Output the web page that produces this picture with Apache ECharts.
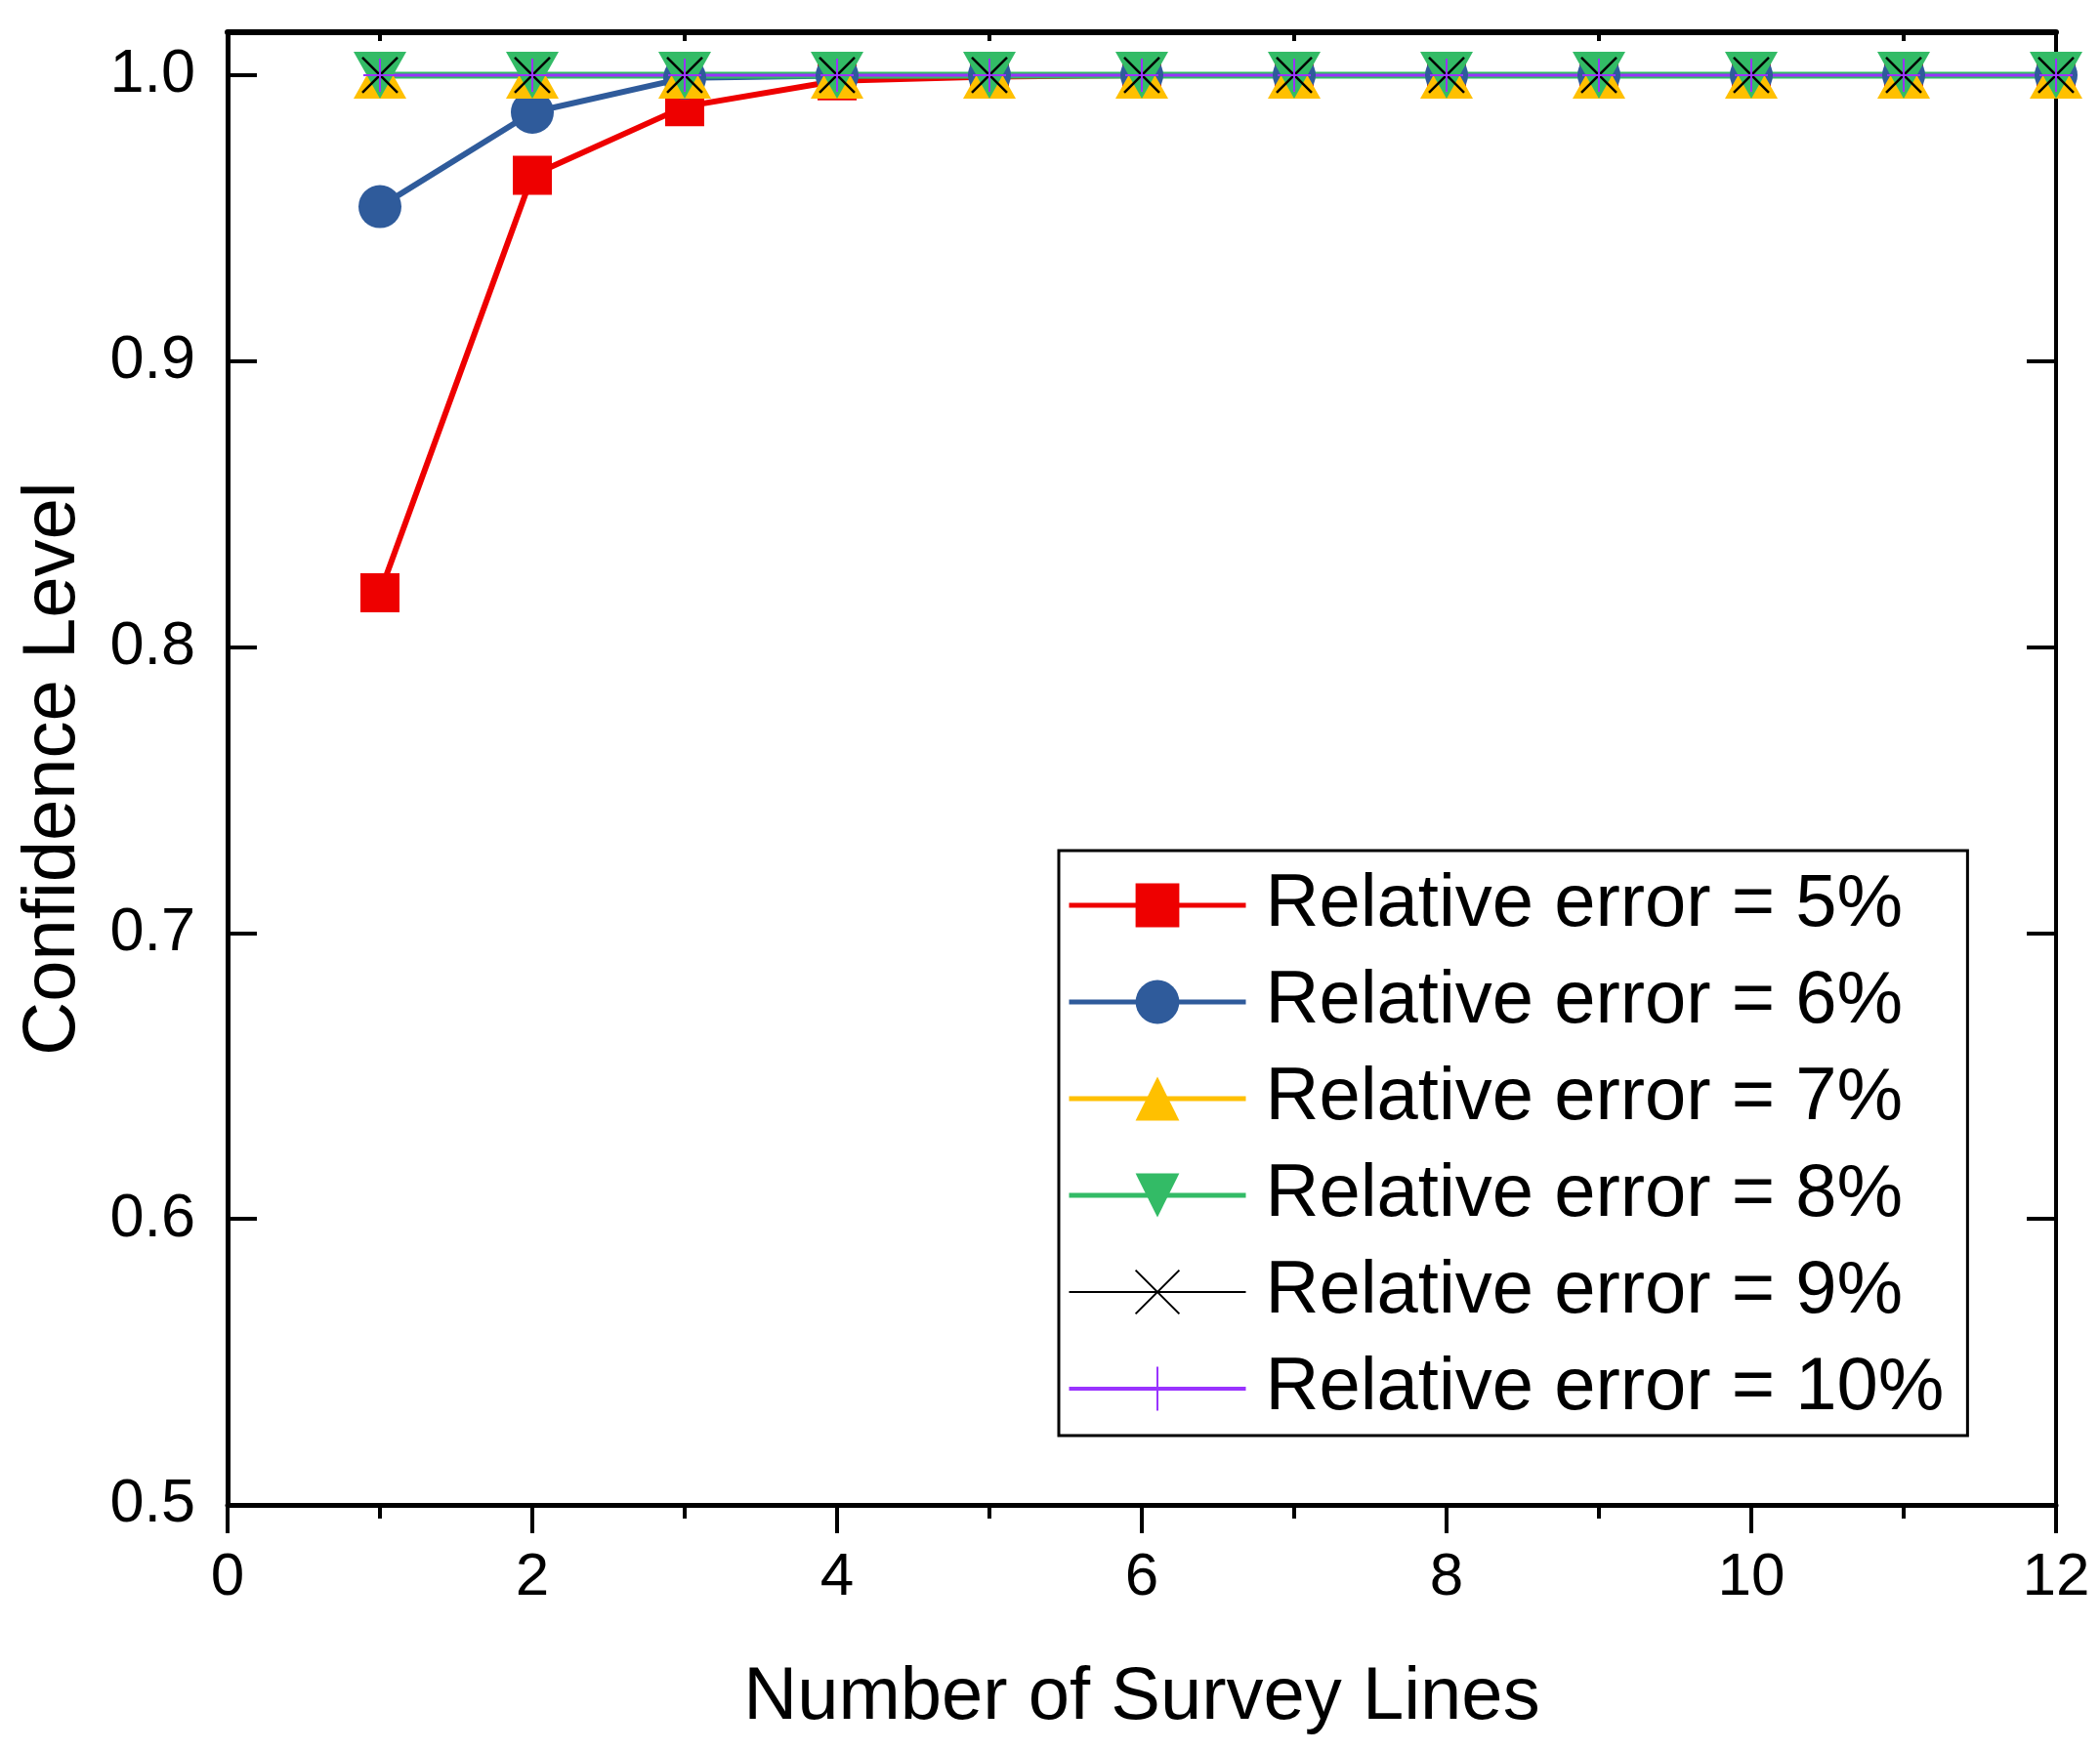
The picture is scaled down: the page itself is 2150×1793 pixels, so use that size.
<!DOCTYPE html>
<html>
<head>
<meta charset="utf-8">
<script src="https://cdn.jsdelivr.net/npm/echarts@6/dist/echarts.min.js"></script>
<style>
html,body{margin:0;padding:0;background:#fff;}
#c{width:2150px;height:1793px;}
</style>
</head>
<body>
<div id="c"></div>
<script>
// ---- data ----
const surveyLines = [1, 2, 3, 4, 5, 6, 7, 8, 9, 10, 11, 12];
const seriesNames = ['Relative error = 5%', 'Relative error = 6%', 'Relative error = 7%',
                     'Relative error = 8%', 'Relative error = 9%', 'Relative error = 10%'];
const err5  = [0.819, 0.965, 0.989, 0.998, 0.9995, 1, 1, 1, 1, 1, 1, 1];
const err6  = [0.954, 0.987, 0.999, 0.9998, 1, 1, 1, 1, 1, 1, 1, 1];
const err7  = [1, 1, 1, 1, 1, 1, 1, 1, 1, 1, 1, 1];
const err8  = [1, 1, 1, 1, 1, 1, 1, 1, 1, 1, 1, 1];
const err9  = [1, 1, 1, 1, 1, 1, 1, 1, 1, 1, 1, 1];
const err10 = [1, 1, 1, 1, 1, 1, 1, 1, 1, 1, 1, 1];
const xTicks = [0, 2, 4, 6, 8, 10, 12];
const yTicks = [0.5, 0.6, 0.7, 0.8, 0.9, 1.0];
const xTitle = 'Number of Survey Lines';
const yTitle = 'Confidence Level';

const FONT = '"Liberation Sans", Arial, Helvetica, sans-serif';
const pair = arr => surveyLines.map((x, i) => [x, arr[i]]);

const chart = echarts.init(document.getElementById('c'), null, {renderer: 'canvas'});

const mkSeries = (name, data, color, symbol, size, lineWidth, extra) => Object.assign({
  name: name,
  type: 'line',
  data: pair(data),
  symbol: symbol,
  symbolSize: size,
  clip: false,
  lineStyle: {color: color, width: lineWidth},
  itemStyle: {color: color},
  emphasis: {disabled: true},
  animation: false
}, extra || {});

const legendLineWidths = [5, 5, 5, 5, 2, 4];

const option = {
  backgroundColor: '#ffffff',
  animation: false,
  grid: {left: 233, right: 45, top: 33, bottom: 252, containLabel: false},
  xAxis: [{
    type: 'value', position: 'bottom', min: 0, max: 12, interval: 2,
    name: xTitle, nameLocation: 'middle', nameGap: 160,
    nameTextStyle: {fontFamily: FONT, fontSize: 76, color: '#000'},
    axisLine: {show: true, onZero: false, lineStyle: {color: '#000', width: 5}},
    axisTick: {show: true, inside: false, length: 29, lineStyle: {color: '#000', width: 4}},
    minorTick: {show: true, splitNumber: 2, length: 14, lineStyle: {color: '#000', width: 4}},
    axisLabel: {fontFamily: FONT, fontSize: 62, color: '#000', margin: 44,
                customValues: xTicks},
    splitLine: {show: false}
  }, {
    type: 'value', position: 'top', min: 0, max: 12, interval: 2,
    axisLine: {show: true, onZero: false, lineStyle: {color: '#000', width: 6}},
    axisTick: {show: true, inside: true, length: 9, lineStyle: {color: '#000', width: 4},
               customValues: [1, 3, 5, 7, 9, 11]},
    axisLabel: {show: false},
    splitLine: {show: false}
  }],
  yAxis: [{
    type: 'value', position: 'left', min: 0.5, max: 1.015,
    name: yTitle, nameLocation: 'middle', nameGap: 140,
    nameTextStyle: {fontFamily: FONT, fontSize: 76, color: '#000'},
    axisLine: {show: true, onZero: false, lineStyle: {color: '#000', width: 5}},
    axisTick: {show: true, inside: true, length: 30, lineStyle: {color: '#000', width: 4},
               customValues: yTicks},
    axisLabel: {fontFamily: FONT, fontSize: 63, color: '#000', margin: 33,
                customValues: yTicks, formatter: v => v.toFixed(1)},
    splitLine: {show: false}
  }, {
    type: 'value', position: 'right', min: 0.5, max: 1.015,
    axisLine: {show: true, onZero: false, lineStyle: {color: '#000', width: 4}},
    axisTick: {show: true, inside: true, length: 30, lineStyle: {color: '#000', width: 4},
               customValues: yTicks},
    axisLabel: {show: false},
    splitLine: {show: false}
  }],
  legend: {
    show: true,
    orient: 'vertical',
    left: 1084, top: 871,
    padding: [18, 24, 10, 8],
    itemWidth: 181, itemHeight: 56, itemGap: 23,
    borderColor: '#000', borderWidth: 3, borderRadius: 0,
    backgroundColor: '#fff',
    textStyle: {fontFamily: FONT, fontSize: 76, color: '#000',
                padding: [0, 0, 0, 15]},
    data: seriesNames.map((n, i) => ({name: n, lineStyle: {width: legendLineWidths[i]}}))
  },
  series: [
    mkSeries(seriesNames[0], err5, '#ee0000', 'rect', 40, 6),
    mkSeries(seriesNames[1], err6, '#2f5b9b', 'circle', 44, 6),
    mkSeries(seriesNames[2], err7, '#ffc000', 'triangle', [54, 48], 5),
    mkSeries(seriesNames[3], err8, '#33bb66', 'triangle', [54, 48], 7, {symbolRotate: 180}),
    mkSeries(seriesNames[4], err9, '#000000', 'path://M0,0L10,10M10,0L0,10', 36, 2,
      {itemStyle: {color: 'rgba(0,0,0,0)', borderColor: '#000', borderWidth: 2.5}}),
    mkSeries(seriesNames[5], err10, '#9933ff', 'path://M5,0L5,10M0,5L10,5', 34, 3,
      {itemStyle: {color: 'rgba(0,0,0,0)', borderColor: '#9933ff', borderWidth: 2}})
  ]
};
chart.setOption(option);
</script>
</body>
</html>
